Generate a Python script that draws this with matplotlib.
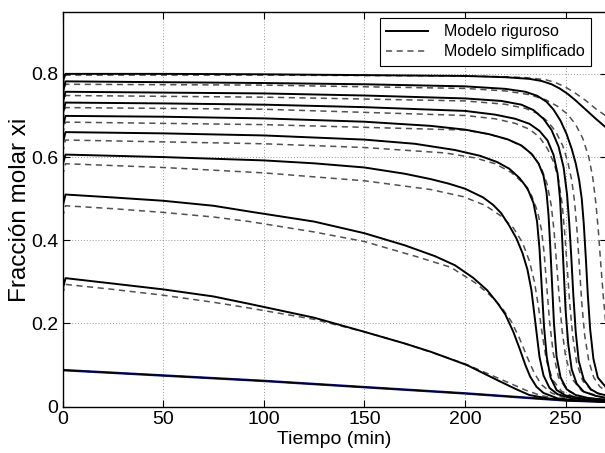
import matplotlib
matplotlib.use("Agg")
from matplotlib import pyplot as plt

plt.rcParams['font.family'] = ['Liberation Sans', 'DejaVu Sans']

x_ticks = [0, 50, 100, 150, 200, 250]
y_ticks = [0, 0.2, 0.4, 0.6, 0.8]
y_tick_labels = ["0", "0.2", "0.4", "0.6", "0.8"]

# Modelo riguroso (solid), top to bottom
rig1_t = [0, 1.5, 50, 100, 150, 200, 220, 232, 238, 243, 247, 251, 255, 260, 265, 270.3]
rig1_x = [0.78, 0.800, 0.800, 0.799, 0.797, 0.795, 0.792, 0.788, 0.783, 0.775, 0.765, 0.752, 0.736, 0.714, 0.692, 0.670]
rig2_t = [0, 1.5, 50, 100, 150, 200, 220, 230, 236, 240.5, 244, 247.5, 250.5, 253, 255, 256.7, 258, 259, 260, 261, 262.2, 263.8, 266, 270.3]
rig2_x = [0.75, 0.782, 0.780, 0.778, 0.775, 0.770, 0.764, 0.757, 0.747, 0.733, 0.714, 0.687, 0.655, 0.62, 0.585, 0.545, 0.50, 0.44, 0.36, 0.27, 0.185, 0.115, 0.07, 0.045]
rig3_t = [0, 1.5, 50, 100, 150, 200, 218, 228, 234, 239, 243, 246.5, 249, 250.7, 251.8, 252.8, 253.8, 255, 256.5, 259, 262.5, 266, 270.3]
rig3_x = [0.727, 0.757, 0.755, 0.753, 0.748, 0.741, 0.735, 0.726, 0.713, 0.692, 0.665, 0.625, 0.575, 0.51, 0.44, 0.36, 0.27, 0.18, 0.11, 0.065, 0.042, 0.032, 0.027]
rig4_t = [0, 1.5, 50, 100, 150, 200, 215, 225, 232, 237, 241, 244, 246, 247.2, 248, 249, 250, 251.3, 253, 255.5, 259, 265, 270.3]
rig4_x = [0.70, 0.731, 0.729, 0.726, 0.72, 0.711, 0.702, 0.692, 0.68, 0.663, 0.64, 0.605, 0.56, 0.50, 0.43, 0.33, 0.23, 0.15, 0.09, 0.055, 0.036, 0.026, 0.021]
rig5_t = [0, 1.5, 50, 100, 150, 183, 200, 212, 221, 228, 233, 236.5, 239, 240.5, 241.5, 242.3, 243.2, 244.2, 245.5, 247.5, 250.5, 255, 262, 270.3]
rig5_x = [0.67, 0.699, 0.697, 0.693, 0.685, 0.675, 0.666, 0.655, 0.643, 0.628, 0.608, 0.585, 0.555, 0.515, 0.46, 0.39, 0.30, 0.20, 0.12, 0.07, 0.042, 0.028, 0.02, 0.017]
rig6_t = [0, 1.5, 50, 100, 150, 175, 195, 207.5, 216, 222, 227, 231, 234, 235.8, 237, 238.2, 239.3, 240.6, 242.5, 245.5, 250, 260, 270.3]
rig6_x = [0.63, 0.66, 0.657, 0.652, 0.642, 0.632, 0.617, 0.603, 0.588, 0.572, 0.55, 0.525, 0.49, 0.445, 0.38, 0.28, 0.19, 0.12, 0.07, 0.04, 0.027, 0.018, 0.014]
rig7_t = [0, 1.5, 50, 100, 125, 150, 170, 183, 192, 200, 209, 214, 218, 222, 225.5, 228.5, 231, 233, 235, 237, 239, 242, 246, 253, 270.3]
rig7_x = [0.58, 0.606, 0.60, 0.592, 0.585, 0.575, 0.56, 0.547, 0.536, 0.524, 0.503, 0.485, 0.465, 0.435, 0.405, 0.37, 0.33, 0.28, 0.20, 0.12, 0.075, 0.045, 0.03, 0.02, 0.013]
rig8_t = [0, 1.5, 25, 50, 75, 93, 125, 150, 170, 185, 195, 204, 211, 216, 220, 224, 227.4, 230, 232.4, 235.5, 239, 246, 255, 270.3]
rig8_x = [0.48, 0.51, 0.503, 0.495, 0.483, 0.469, 0.445, 0.417, 0.388, 0.362, 0.34, 0.31, 0.28, 0.25, 0.222, 0.18, 0.136, 0.10, 0.072, 0.048, 0.033, 0.02, 0.015, 0.012]
rig9_t = [0, 1.5, 25, 50, 75, 93, 125, 150, 170, 183, 201, 216, 225, 232, 241, 255, 270.3]
rig9_x = [0.28, 0.309, 0.296, 0.282, 0.265, 0.247, 0.214, 0.18, 0.152, 0.132, 0.10, 0.064, 0.043, 0.028, 0.02, 0.014, 0.012]
rig10_t = [0, 50, 100, 150, 200, 235, 250, 270.3]
rig10_x = [0.088, 0.075, 0.062, 0.047, 0.032, 0.02, 0.015, 0.012]

# Modelo simplificado (dashed), top to bottom
sim1_t = [0, 1.5, 100, 200, 220, 230, 240, 245, 250, 255, 260, 265, 270.3]
sim1_x = [0.77, 0.797, 0.797, 0.795, 0.793, 0.791, 0.786, 0.779, 0.768, 0.753, 0.736, 0.716, 0.698]
sim2_t = [0, 1.5, 100, 200, 220, 232, 240, 246, 251, 255, 258.5, 261.5, 263.5, 265, 266.3, 267.5, 268.8, 270.3]
sim2_x = [0.745, 0.775, 0.773, 0.765, 0.759, 0.75, 0.738, 0.722, 0.703, 0.678, 0.645, 0.60, 0.55, 0.49, 0.42, 0.34, 0.26, 0.18]
sim3_t = [0, 1.5, 100, 200, 220, 230, 236, 241, 245, 248.5, 251, 253, 254.5, 255.7, 256.8, 258, 259.5, 261.5, 264, 267, 270.3]
sim3_x = [0.72, 0.748, 0.744, 0.735, 0.727, 0.717, 0.705, 0.686, 0.662, 0.628, 0.59, 0.545, 0.49, 0.42, 0.34, 0.25, 0.17, 0.11, 0.07, 0.048, 0.037]
sim4_t = [0, 1.5, 100, 200, 215, 225, 232, 237, 241, 244.3, 246.5, 248.2, 249.5, 250.7, 252, 253.5, 255.5, 258.5, 263, 270.3]
sim4_x = [0.69, 0.719, 0.715, 0.70, 0.692, 0.681, 0.667, 0.648, 0.62, 0.585, 0.545, 0.49, 0.42, 0.34, 0.25, 0.17, 0.105, 0.062, 0.038, 0.025]
sim5_t = [0, 1.5, 100, 200, 212, 222, 229, 234, 238, 240.8, 242.8, 244.2, 245.4, 246.7, 248.2, 250, 253, 258, 270.3]
sim5_x = [0.655, 0.684, 0.678, 0.665, 0.655, 0.641, 0.624, 0.603, 0.573, 0.535, 0.485, 0.425, 0.35, 0.27, 0.185, 0.12, 0.068, 0.038, 0.02]
sim6_t = [0, 1.5, 100, 150, 190, 205, 215, 223, 229, 233, 236, 238, 239.3, 240.6, 242, 243.8, 246.5, 251, 258, 270.3]
sim6_x = [0.61, 0.641, 0.632, 0.623, 0.61, 0.598, 0.584, 0.563, 0.537, 0.508, 0.47, 0.425, 0.37, 0.29, 0.205, 0.13, 0.07, 0.038, 0.024, 0.016]
sim7_t = [0, 1.5, 50, 100, 150, 183, 199, 210, 218, 224, 228.5, 232, 234.5, 236.5, 238.5, 240.5, 243.5, 248, 255, 270.3]
sim7_x = [0.555, 0.584, 0.575, 0.562, 0.543, 0.522, 0.505, 0.484, 0.458, 0.43, 0.395, 0.35, 0.30, 0.24, 0.17, 0.11, 0.065, 0.037, 0.022, 0.013]
sim8_t = [0, 1.5, 25, 50, 75, 93, 125, 150, 175, 193, 205, 212, 218, 223, 227, 231, 234.5, 238, 243, 250, 270.3]
sim8_x = [0.455, 0.483, 0.476, 0.467, 0.456, 0.445, 0.42, 0.397, 0.362, 0.335, 0.298, 0.27, 0.24, 0.205, 0.165, 0.118, 0.08, 0.053, 0.033, 0.02, 0.012]
sim9_t = [0, 1.5, 25, 50, 75, 93, 125, 150, 170, 185, 200, 212, 222, 230, 237, 245, 255, 270.3]
sim9_x = [0.27, 0.294, 0.282, 0.268, 0.251, 0.237, 0.21, 0.18, 0.152, 0.128, 0.103, 0.078, 0.057, 0.04, 0.028, 0.019, 0.014, 0.012]
sim10_t = rig10_t
sim10_x = rig10_x

rig_curves = [(rig1_t, rig1_x), (rig2_t, rig2_x), (rig3_t, rig3_x), (rig4_t, rig4_x),
              (rig5_t, rig5_x), (rig6_t, rig6_x), (rig7_t, rig7_x), (rig8_t, rig8_x),
              (rig9_t, rig9_x)]
sim_curves = [(sim1_t, sim1_x), (sim2_t, sim2_x), (sim3_t, sim3_x), (sim4_t, sim4_x),
              (sim5_t, sim5_x), (sim6_t, sim6_x), (sim7_t, sim7_x), (sim8_t, sim8_x),
              (sim9_t, sim9_x), (sim10_t, sim10_x)]

W, H = 605, 453
fig = plt.figure(figsize=(W / 100.0, H / 100.0), dpi=100)
# right edge of axes lies just beyond the picture, as in the reference
ax = fig.add_axes([62.5 / W, 46.3 / H, (606.5 - 62.5) / W, (406.7 - 12.3) / H])

dash_color = '#505050'
for i, (t, x) in enumerate(sim_curves):
    ax.plot(t, x, color=dash_color, lw=1.1, dashes=(4, 3),
            label='Modelo simplificado' if i == 0 else None, zorder=2)
ax.plot(rig10_t, rig10_x, color='#1a1a8c', lw=1.8, zorder=2.5)
ax.plot(rig10_t, rig10_x, color='black', lw=1.0, zorder=3)
for i, (t, x) in enumerate(rig_curves):
    ax.plot(t, x, color='black', lw=1.4, solid_joinstyle='round',
            label='Modelo riguroso' if i == 0 else None, zorder=3)

ax.set_xlim(0, 270.3)
ax.set_ylim(0, 0.948)
ax.set_xticks(x_ticks)
ax.set_yticks(y_ticks)
ax.set_yticklabels(y_tick_labels)
ax.tick_params(direction='in', length=5, width=0.8, top=True, right=True,
               labelsize=14)
ax.tick_params(axis='x', pad=3)
ax.tick_params(axis='y', pad=3)
ax.grid(True, linestyle=(0, (1, 2)), color='#999999', lw=0.7)
for sp in ax.spines.values():
    sp.set_linewidth(1.0)

ax.set_xlabel('Tiempo (min)', fontsize=14)
ax.xaxis.set_label_coords(0.5, -0.061)
ax.set_ylabel('Fracción molar xi', fontsize=17.5)
ax.yaxis.set_label_coords(-0.058, 0.5)

handles, labels = ax.get_legend_handles_labels()
order = [labels.index('Modelo riguroso'), labels.index('Modelo simplificado')]
leg = ax.legend([handles[k] for k in order], [labels[k] for k in order],
                loc='upper right', bbox_to_anchor=(0.9715, 0.9856),
                borderaxespad=0, fontsize=11.5, fancybox=False, framealpha=1,
                edgecolor='black', handlelength=2.6, handletextpad=1.0,
                borderpad=0.4, labelspacing=0.3)
leg.get_frame().set_linewidth(0.8)

fig.savefig('out.png', dpi=100)
